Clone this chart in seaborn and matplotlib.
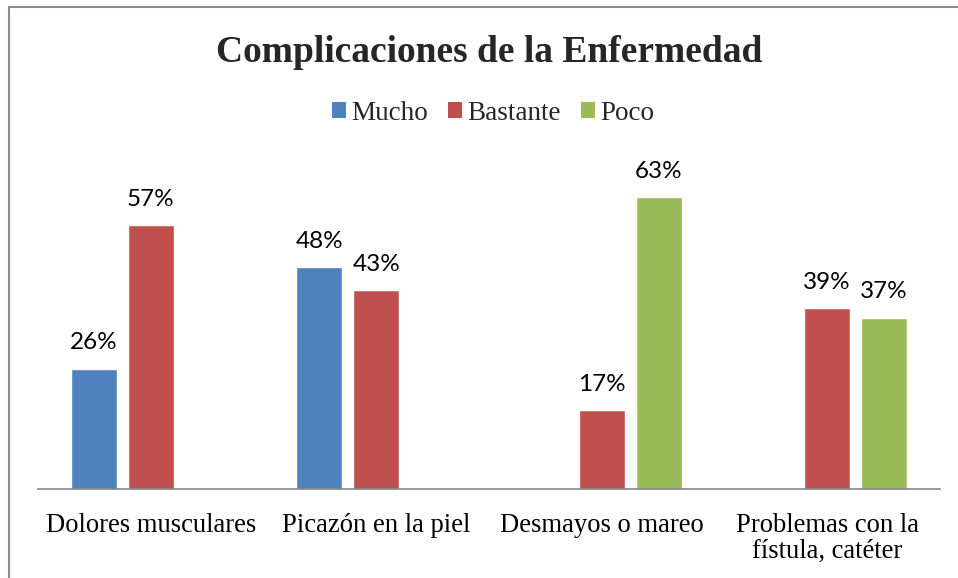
import pandas as pd
import matplotlib
matplotlib.use("Agg")
import matplotlib.pyplot as plt
from matplotlib.lines import Line2D
from matplotlib.patches import Patch
import seaborn as sns

# ------------------------------
# Data
# ------------------------------
categorias = ["Dolores musculares", "Picazón en la piel", "Desmayos o mareo",
              "Problemas con la\nfístula, catéter"]
series = ["Mucho", "Bastante", "Poco"]
mucho = [26, 48, None, None]
bastante = [57, 43, 17, 39]
poco = [None, None, 63, 37]
colores = ["#4F81BD", "#C0504D", "#9BBB59"]

rows = []
for serie, valores in zip(series, [mucho, bastante, poco]):
    for cat, v in zip(categorias, valores):
        if v is not None:
            rows.append({"categoria": cat, "serie": serie, "valor": v})
df = pd.DataFrame(rows)

# ------------------------------
# Plot
# ------------------------------
sns.set_style("white")
plt.rcParams["font.family"] = ["Liberation Serif", "DejaVu Serif"]

fig = plt.figure(figsize=(9.58, 5.78), dpi=100)
ax = fig.add_axes([38 / 958, 89 / 578, 902 / 958, 324 / 578])

sns.barplot(data=df, x="categoria", y="valor", hue="serie",
            order=categorias, hue_order=series, palette=colores,
            width=0.757, gap=0.19, errorbar=None, saturation=1,
            legend=False, ax=ax)

for cont in ax.containers:
    ax.bar_label(cont, fmt="%.0f%%", padding=11, fontsize=17.5,
                 family=["Lato", "DejaVu Sans"], color="black")

ax.set_ylim(0, 70)
ax.set_xlim(-0.5, 3.5)
ax.set_xlabel("")
ax.set_ylabel("")
ax.set_yticks([])
for s in ["top", "left", "right"]:
    ax.spines[s].set_visible(False)
ax.spines["bottom"].set_color("#868686")
ax.spines["bottom"].set_linewidth(1.2)
ax.tick_params(axis="x", length=0, pad=17, labelsize=19.2, colors="black")
for lbl in ax.get_xticklabels():
    lbl.set_linespacing(1.05)

fig.text(489 / 958, 1 - 52 / 578, "Complicaciones de la Enfermedad",
         ha="center", va="center", fontsize=27, fontweight="bold")

handles = [Patch(facecolor=c, edgecolor="none") for c in colores]
fig.legend(handles, series, loc="center", bbox_to_anchor=(493 / 958, 1 - 113 / 578),
           ncol=3, frameon=False, fontsize=19.5, handlelength=0.52,
           handleheight=0.52, handletextpad=0.18, columnspacing=0.75)

# chart border (left and top edges visible)
fig.add_artist(Line2D([8.5 / 958, 8.5 / 958], [0, 1 - 7 / 578],
                      transform=fig.transFigure, color="#8C8C8C", lw=1.5))
fig.add_artist(Line2D([8.5 / 958, 1], [1 - 7 / 578, 1 - 7 / 578],
                      transform=fig.transFigure, color="#8C8C8C", lw=1.5))

fig.savefig("out.png", dpi=100)
plt.close(fig)
